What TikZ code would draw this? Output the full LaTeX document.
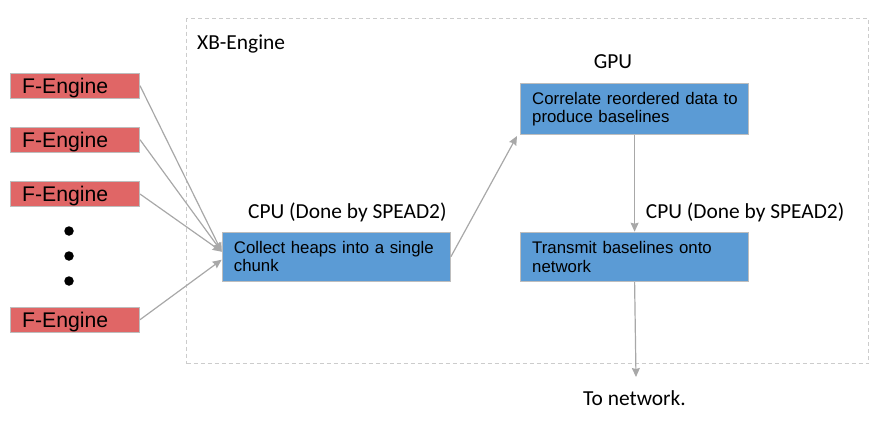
\documentclass[tikz,border=0pt]{standalone}
\usepackage{fontspec}
\setmainfont{Carlito}
\newfontfamily\arialfont{Liberation Sans}
\usetikzlibrary{arrows.meta,calc}
\definecolor{fred}{HTML}{E06666}
\definecolor{bblue}{HTML}{5B9BD5}
\definecolor{bord}{HTML}{BDBDBD}
\definecolor{arrc}{HTML}{A8A8A8}
\definecolor{dashc}{HTML}{CCCCCC}
\begin{document}
\begin{tikzpicture}[x=1pt,y=-1pt,
  fengbox/.style={draw=bord, line width=1pt, fill=fred, anchor=north west,
    text width=105.6pt, inner xsep=11.7pt, inner ysep=0pt, minimum height=25pt,
    text height=15.2pt, text depth=0pt, align=left,
    font=\arialfont\fontsize{21.2}{24}\selectfont},
  procbox/.style={draw=bord, line width=1pt, fill=bblue, anchor=north west,
    text width=204.8pt, inner xsep=11.7pt, inner ysep=0pt, align=left,
    font=\arialfont\fontsize{16.8}{18.4}\selectfont},
  lbl/.style={anchor=base west, inner sep=0pt, font=\fontsize{21.4}{24}\selectfont},
  container/.style={draw=dashc, line width=1.3pt, dash pattern=on 4pt off 3pt,
    anchor=north west, inner sep=0pt},
  conn/.style={draw=arrc, line width=1.2pt, -{Stealth[length=9pt,width=8pt,inset=1pt]}},
  dotnode/.style={circle, fill=black, inner sep=0pt, minimum size=9.5pt}
]
\useasboundingbox (0,0) rectangle (887,436);

\node[container, minimum width=682pt, minimum height=345pt] (xb) at (186,18) {};
\node[lbl] (xblbl) at (197,50) {XB-Engine};

\node[fengbox] (f1) at (10,72.7) {F-Engine};
\node[fengbox] (f2) at (10,126.7) {F-Engine};
\node[fengbox] (f3) at (10,181) {F-Engine};
\node[fengbox] (f4) at (10,306.7) {F-Engine};

\node[dotnode] (d1) at (69,231) {};
\node[dotnode] (d2) at (69,256) {};
\node[dotnode] (d3) at (69,281) {};

\node[procbox, minimum height=49pt] (collect) at (221.7,231.7) {\mbox{Collect heaps into a single}\\\mbox{chunk}};
\node[procbox, minimum height=50.7pt] (gpu) at (520,83.3) {\mbox{Correlate reordered data to}\\\mbox{produce baselines}};
\node[procbox, minimum height=49.3pt] (tx) at (520,231.7) {\mbox{Transmit baselines onto}\\\mbox{network}};

\node[lbl] (cpu1) at (248,218.3) {CPU (Done by SPEAD2)};
\node[lbl, anchor=base] (gpulbl) at (613,68.3) {GPU};
\node[lbl] (cpu2) at (645.7,218.3) {CPU (Done by SPEAD2)};
\node[lbl] (tonet) at (583,405) {To network.};

\coordinate (netend) at (636,377);

\draw[conn] (f1.east) -- ([yshift=5pt]collect.west);
\draw[conn] (f2.east) -- ([yshift=5pt]collect.west);
\draw[conn] (f3.east) -- ([yshift=5pt]collect.west);
\draw[conn] (f4.east) -- ([yshift=-3pt]collect.west);
\draw[conn] (collect.east) -- ([xshift=-3pt,yshift=-1pt]gpu.south west);
\draw[conn] (gpu.south) -- (tx.north);
\draw[conn] (tx.south) -- (netend);
\end{tikzpicture}
\end{document}
